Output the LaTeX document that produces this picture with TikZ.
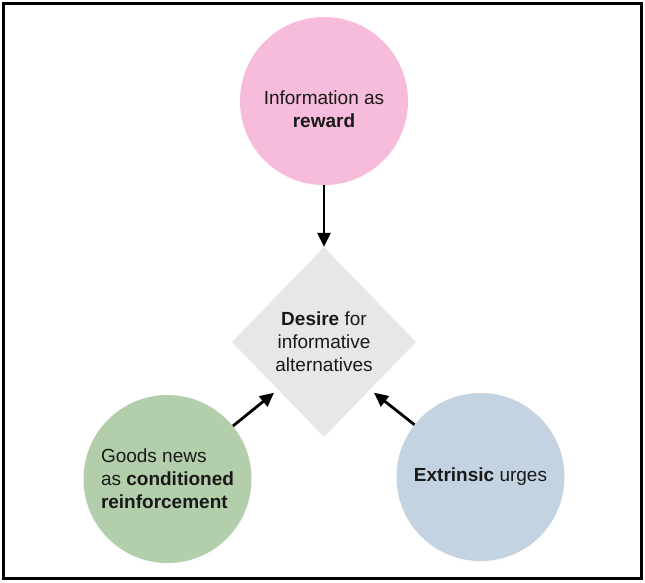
\documentclass[tikz,border=0pt]{standalone}
\usepackage{fontspec}
\setmainfont{Liberation Sans}
\usetikzlibrary{arrows.meta,
                shapes.geometric,
                shadows
                }
\definecolor{pinkball}{RGB}{247,188,219}
\definecolor{greenball}{RGB}{179,206,171}
\definecolor{blueball}{RGB}{196,211,225}
\definecolor{diamgray}{RGB}{231,231,231}
\definecolor{textgray}{RGB}{25,25,25}

\begin{document}
\begin{tikzpicture}[
x = 1pt, y = -1pt,
font = \fontsize{19}{23}\selectfont,
    BL/.style = {circle, minimum size=168pt, inner sep=0pt,
        fill=#1,
        circular drop shadow={shadow xshift=0pt, shadow yshift=-3pt,
                              shadow scale=1, opacity=0.12}
                  },
    DM/.style = {diamond, minimum width=184pt, minimum height=190pt,
                 inner sep=0pt, fill=diamgray},
    TX/.style = {align=#1, text=textgray, inner sep=0pt},
  TX/.default = center,
    AR/.style = {-{Triangle[length=14pt, width=13pt]}, line width=2.8pt,
                 shorten >=#1},
  AR/.default = 0pt,
                        ]
\useasboundingbox (0,0) rectangle (645,582);
\draw[line width=3.4pt] (3.5,3.5) rectangle (641.5,578.5);
% balls and the diamond
\node[BL=pinkball]  (reward)    at (324,101) {};
\node[BL=greenball] (goodnews)  at (167.5,479) {};
\node[BL=blueball]  (extrinsic) at (480.5,477) {};
\node[DM]           (desire)    at (324,342) {};
% texts
\node[TX] (reward-t)    at (324,109)
    {Information as\\ \textbf{reward}};
\node[TX=left] (goodnews-t) at (goodnews.center)
    {Goods news\\ as \textbf{conditioned}\\ \textbf{reinforcement}};
\node[TX] (extrinsic-t) at (extrinsic.center)
    {\textbf{Extrinsic} urges};
\node[TX] (desire-t)    at (desire.center)
    {\textbf{Desire} for\\ informative\\ alternatives};
% arrows
\draw[AR]       (reward)    -- (desire.north);
\draw[AR=5pt]   (goodnews)  -- (desire.south west);
\draw[AR=5pt]   (extrinsic) -- (desire.south east);
\end{tikzpicture}
\end{document}
